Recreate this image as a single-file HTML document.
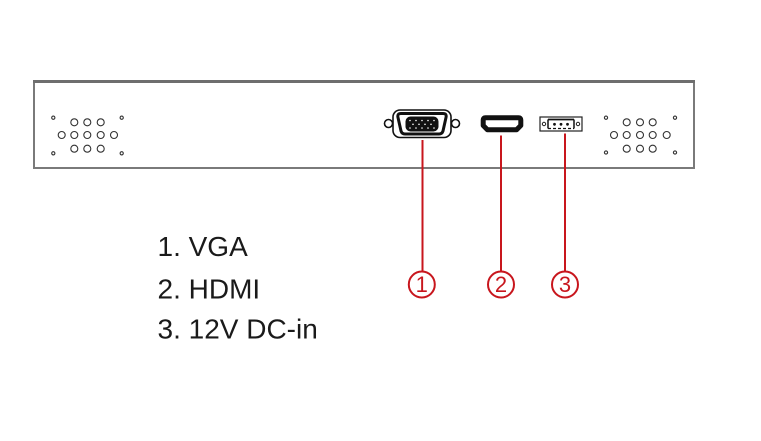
<!DOCTYPE html>
<html>
<head>
<meta charset="utf-8">
<style>
  html,body{margin:0;padding:0;background:#fff;}
  body{width:761px;height:441px;overflow:hidden;}
  svg{display:block;}
</style>
</head>
<body>
<svg width="761" height="441" viewBox="0 0 761 441" xmlns="http://www.w3.org/2000/svg">
  <!-- panel -->
  <rect x="34" y="81.5" width="660" height="86.5" fill="#fff" stroke="#7a7a7a" stroke-width="2"/>
  <line x1="33" y1="81.5" x2="695" y2="81.5" stroke="#6e6e6e" stroke-width="3"/>

  <!-- left vent holes -->
  <g fill="none" stroke="#333" stroke-width="1.1">
    <circle cx="53.3" cy="117.7" r="1.6"/>
    <circle cx="121.7" cy="117.7" r="1.6"/>
    <circle cx="53.3" cy="153.3" r="1.6"/>
    <circle cx="121.7" cy="153.3" r="1.6"/>
    <circle cx="74.3" cy="122.3" r="3.5"/>
    <circle cx="87.3" cy="122.3" r="3.5"/>
    <circle cx="100.7" cy="122.3" r="3.5"/>
    <circle cx="61.7" cy="135" r="3.5"/>
    <circle cx="74.3" cy="135" r="3.5"/>
    <circle cx="87.3" cy="135" r="3.5"/>
    <circle cx="100.7" cy="135" r="3.5"/>
    <circle cx="114" cy="135" r="3.5"/>
    <circle cx="74.3" cy="148.7" r="3.5"/>
    <circle cx="87.3" cy="148.7" r="3.5"/>
    <circle cx="100.7" cy="148.7" r="3.5"/>
  </g>
  <!-- right vent holes -->
  <g fill="none" stroke="#333" stroke-width="1.1">
    <circle cx="606" cy="117.7" r="1.6"/>
    <circle cx="675" cy="117.7" r="1.6"/>
    <circle cx="606" cy="152.5" r="1.6"/>
    <circle cx="675" cy="152.5" r="1.6"/>
    <circle cx="626.7" cy="122.3" r="3.5"/>
    <circle cx="640" cy="122.3" r="3.5"/>
    <circle cx="652.7" cy="122.3" r="3.5"/>
    <circle cx="614" cy="135" r="3.5"/>
    <circle cx="626.7" cy="135" r="3.5"/>
    <circle cx="640" cy="135" r="3.5"/>
    <circle cx="652.7" cy="135" r="3.5"/>
    <circle cx="666.7" cy="135" r="3.5"/>
    <circle cx="626.7" cy="148.7" r="3.5"/>
    <circle cx="640" cy="148.7" r="3.5"/>
    <circle cx="652.7" cy="148.7" r="3.5"/>
  </g>

  <!-- VGA connector -->
  <g stroke="#111" fill="#fff">
    <circle cx="388.5" cy="123.5" r="4" stroke-width="1.6"/>
    <circle cx="455.5" cy="123.5" r="4" stroke-width="1.6"/>
    <rect x="393" y="110" width="58" height="27.5" rx="7" stroke-width="1.6"/>
    <path d="M401,113.5 H443 Q447,113.5 446,117.5 L443,131 Q442,134 439,134 H405 Q402,134 401,131 L398,117.5 Q397,113.5 401,113.5 Z" stroke-width="3"/>
  </g>
  <g fill="#111">
    <rect x="405.5" y="116.5" width="33" height="15" rx="5"/>
  </g>
  <g fill="#fff">
    <circle cx="410" cy="120.5" r="0.8"/><circle cx="416" cy="120.5" r="0.8"/><circle cx="422" cy="120.5" r="0.8"/><circle cx="428" cy="120.5" r="0.8"/><circle cx="434" cy="120.5" r="0.8"/>
    <circle cx="413" cy="124.3" r="0.8"/><circle cx="419" cy="124.3" r="0.8"/><circle cx="425" cy="124.3" r="0.8"/><circle cx="431" cy="124.3" r="0.8"/>
    <circle cx="410" cy="128" r="0.8"/><circle cx="416" cy="128" r="0.8"/><circle cx="422" cy="128" r="0.8"/><circle cx="428" cy="128" r="0.8"/><circle cx="434" cy="128" r="0.8"/>
  </g>

  <!-- HDMI connector -->
  <path d="M485.5,117.8 H518.5 Q520.8,117.8 520.8,120 V125.5 L516.5,129.8 H487.5 L483.2,125.5 V120 Q483.2,117.8 485.5,117.8 Z" fill="#fff" stroke="#111" stroke-width="5" stroke-linejoin="round"/>

  <!-- DC-in connector -->
  <rect x="540" y="117" width="42" height="14" fill="#fff" stroke="#222" stroke-width="1.2"/>
  <circle cx="544" cy="124" r="1.7" fill="none" stroke="#222" stroke-width="1"/>
  <circle cx="578" cy="124" r="1.7" fill="none" stroke="#222" stroke-width="1"/>
  <line x1="548" y1="119.5" x2="574" y2="119.5" stroke="#111" stroke-width="1.8"/>
  <line x1="548" y1="119.5" x2="548" y2="128.5" stroke="#111" stroke-width="1.5"/>
  <line x1="574" y1="119.5" x2="574" y2="128.5" stroke="#111" stroke-width="1.5"/>
  <line x1="548" y1="128.5" x2="574" y2="128.5" stroke="#111" stroke-width="1.3" stroke-dasharray="3,2"/>
  <circle cx="554.5" cy="124.3" r="1.4" fill="#111"/>
  <circle cx="561" cy="124.3" r="1.4" fill="#111"/>
  <circle cx="567.5" cy="124.3" r="1.4" fill="#111"/>

  <!-- red leader lines -->
  <g stroke="#c8161d" stroke-width="2">
    <line x1="422.5" y1="140" x2="422.5" y2="271.5"/>
    <line x1="501" y1="135.5" x2="501" y2="271.5"/>
    <line x1="565" y1="133.5" x2="565" y2="271.5"/>
  </g>
  <g fill="#fff" stroke="#c8161d" stroke-width="2">
    <circle cx="421.8" cy="284.5" r="13"/>
    <circle cx="501" cy="284.5" r="13"/>
    <circle cx="565" cy="284.5" r="13"/>
  </g>
  <g fill="#c8161d" style="font-family:'Liberation Sans', Arial, sans-serif" font-size="22" text-anchor="middle">
    <text x="421.8" y="292">1</text>
    <text x="501" y="292">2</text>
    <text x="565" y="292">3</text>
  </g>

  <!-- legend -->
  <g fill="#1a1a1a" style="font-family:'Liberation Sans', Arial, sans-serif" font-size="28">
    <text x="157.5" y="256">1. VGA</text>
    <text x="157.5" y="298.3">2. HDMI</text>
    <text x="157.5" y="338.3">3. 12V DC-in</text>
  </g>
</svg>
</body>
</html>
